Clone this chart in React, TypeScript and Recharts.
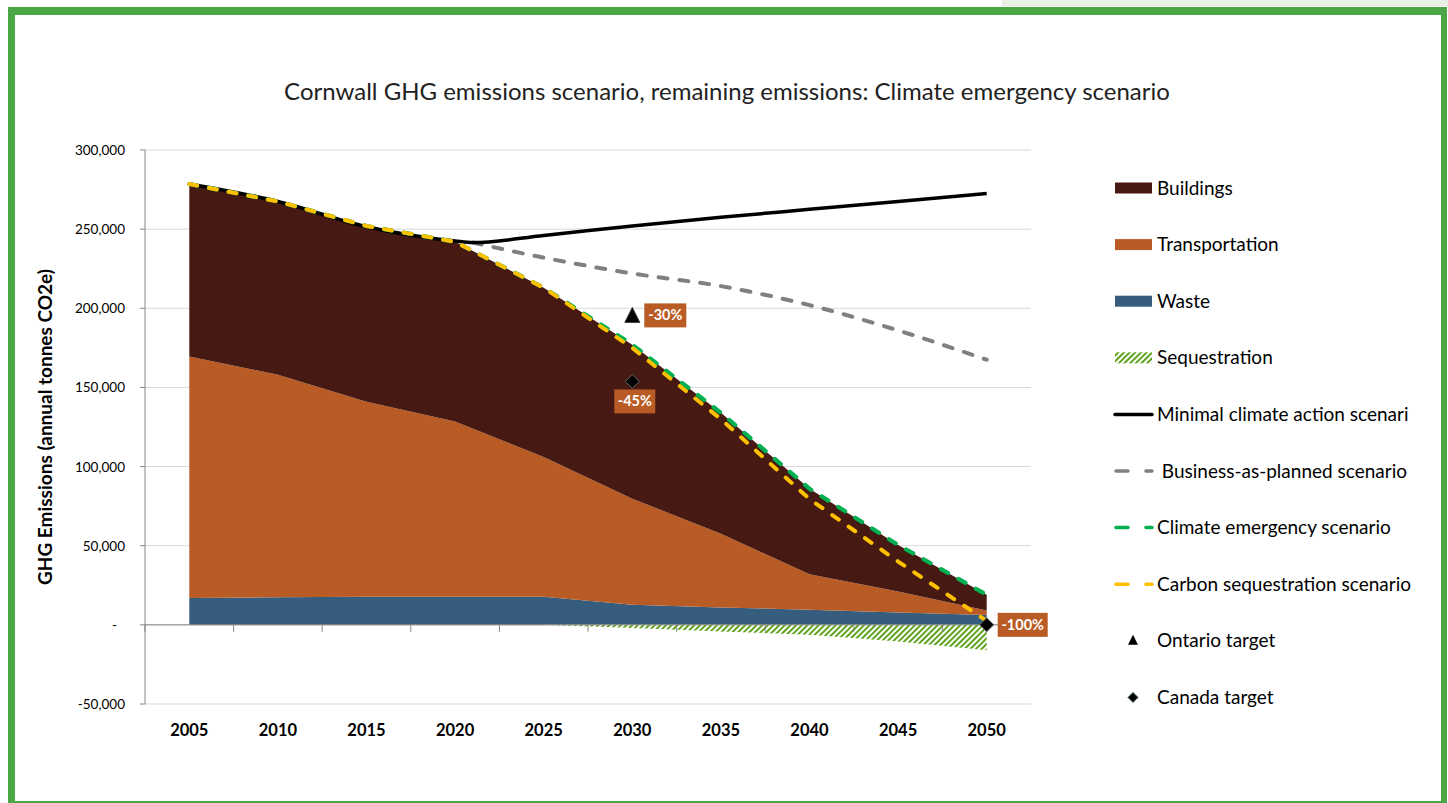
import React from "react";
import {
  ComposedChart,
  Area,
  Line,
  Scatter,
  XAxis,
  YAxis,
  CartesianGrid,
  ReferenceLine,
  ReferenceDot,
} from "recharts";

// 5-year categories, values in annual tonnes CO2e
const years = [2005, 2010, 2015, 2020, 2025, 2030, 2035, 2040, 2045, 2050];
const waste = [17000, 17400, 17700, 17700, 17700, 12700, 11000, 9500, 7800, 6300];
const transportation = [152600, 140600, 123300, 110800, 88300, 67000, 46600, 22500, 13200, 2700];
const buildings = [108900, 109500, 111000, 113500, 107000, 97300, 76400, 54000, 29500, 10000];
const sequestration = [null, null, null, null, 0, -2000, -4200, -6300, -10500, -16000];
const climateEmergency = [278500, 267500, 252000, 242000, 213000, 177000, 134000, 86000, 50500, 19000];
const carbonSequestration = [278500, 267500, 252000, 242000, 213000, 175000, 130000, 79500, 40000, 2500];

const minimalYears = [2005, 2010, 2015, 2020, 2021, 2025, 2030, 2035, 2040, 2045, 2050];
const minimalAction = [278500, 267500, 251500, 242500, 241500, 246000, 252000, 257500, 262500, 267500, 272500];

const plannedYears = [2021, 2025, 2030, 2035, 2040, 2045, 2050];
const businessAsPlanned = [241500, 232000, 222000, 214000, 202000, 186000, 167500];

const ontarioYears = [2030];
const ontarioTarget = [195500];
const ontarioLabels = ["-30%"];

const canadaYears = [2030, 2050];
const canadaTarget = [153800, 0];
const canadaLabels = ["-45%", "-100%"];

const yTicks = [-50000, 0, 50000, 100000, 150000, 200000, 250000, 300000];

const C = {
  buildings: "#461912",
  transport: "#b85b24",
  waste: "#365d7e",
  hatch: "#5fa31f",
  emergency: "#00b050",
  carbon: "#ffc000",
  planned: "#808080",
  axis: "#868686",
  grid: "#d9d9d9",
  frame: "#4ca846",
};

const stackData = years.map((year, i) => ({
  year,
  waste: waste[i],
  transportation: transportation[i],
  buildings: buildings[i],
  sequestration: sequestration[i],
  emergency: climateEmergency[i],
  carbon: carbonSequestration[i],
}));
const minimalData = minimalYears.map((year, i) => ({ year, value: minimalAction[i] }));
const plannedData = plannedYears.map((year, i) => ({ year, value: businessAsPlanned[i] }));
const ontarioData = ontarioYears.map((year, i) => ({ year, value: ontarioTarget[i], label: ontarioLabels[i] }));
const canadaData = canadaYears.map((year, i) => ({ year, value: canadaTarget[i], label: canadaLabels[i] }));

const fmtY = (v: number) => (v === 0 ? "-" : v.toLocaleString("en-US"));

const YTick = ({ x, y, payload }: any) => (
  <text x={payload.value === 0 ? x - 8 : x} y={y} dy={5} textAnchor="end" fontSize={13.5} fill="#000">
    {fmtY(payload.value)}
  </text>
);

const XTick = ({ x, y, payload }: any) => (
  <text x={x} y={y} dy={24} textAnchor="middle" fontSize={16.5} fontWeight="bold" fill="#000">
    {payload.value}
  </text>
);

const TagBox = ({ x, y, w, text }: { x: number; y: number; w: number; text: string }) => (
  <g>
    <rect x={x} y={y} width={w} height={24} fill={C.transport} />
    <text x={x + w / 2} y={y + 17} textAnchor="middle" fontSize={14.5} fontWeight="bold" fill="#fff">
      {text}
    </text>
  </g>
);

const Triangle = ({ cx, cy, payload }: any) => (
  <g>
    <path d={`M${cx},${cy - 8} L${cx + 7.5},${cy + 7} L${cx - 7.5},${cy + 7} Z`} fill="#000" stroke="#3b3b2e" />
    <TagBox x={cx + 12} y={cy - 12} w={42} text={payload.label} />
  </g>
);

const Diamond = ({ cx, cy, payload }: any) => {
  const last = payload.year === years[years.length - 1];
  return (
    <g>
      <path d={`M${cx},${cy - 7} L${cx + 7},${cy} L${cx},${cy + 7} L${cx - 7},${cy} Z`} fill="#000" stroke="#5f6b6b" />
      {last ? (
        <TagBox x={cx + 11} y={cy - 12} w={50} text={payload.label} />
      ) : (
        <TagBox x={cx - 18} y={cy + 8} w={41} text={payload.label} />
      )}
    </g>
  );
};

const TickMark = ({ cx, cy }: any) => <line x1={cx} x2={cx} y1={cy} y2={cy + 7} stroke={C.axis} strokeWidth={1} />;

const legendItems = [
  { name: "Buildings", kind: "box", color: C.buildings },
  { name: "Transportation", kind: "box", color: C.transport },
  { name: "Waste", kind: "box", color: C.waste },
  { name: "Sequestration", kind: "hatch", color: C.hatch },
  { name: "Minimal climate action scenari", kind: "line", color: "#000" },
  { name: " Business-as-planned scenario", kind: "dash", color: C.planned },
  { name: "Climate emergency scenario", kind: "dash", color: C.emergency },
  { name: "Carbon sequestration scenario", kind: "dash", color: C.carbon },
  { name: "Ontario target", kind: "triangle", color: "#000" },
  { name: "Canada target", kind: "diamond", color: "#000" },
];

function LegendBox() {
  const step = 56.6;
  return (
    <svg width={345} height={580} style={{ position: "absolute", left: 1100, top: 160 }}>
      <defs>
        <pattern id="legHatch" width="4" height="4" patternUnits="userSpaceOnUse" patternTransform="rotate(45)">
          <rect width="4" height="4" fill="#fff" />
          <rect width="2" height="4" fill={C.hatch} />
        </pattern>
      </defs>
      {legendItems.map((it, i) => {
        const cy = 28 + i * step;
        let sw: React.ReactNode = null;
        if (it.kind === "box") sw = <rect x={15} y={cy - 5.5} width={37} height={11} fill={it.color} />;
        if (it.kind === "hatch") sw = <rect x={15} y={cy - 5.5} width={37} height={11} fill="url(#legHatch)" />;
        if (it.kind === "line") sw = <line x1={15} x2={52} y1={cy} y2={cy} stroke="#000" strokeWidth={3.5} strokeLinecap="round" />;
        if (it.kind === "dash")
          sw = (
            <g stroke={it.color} strokeWidth={3.5} strokeLinecap="round">
              <line x1={16} x2={28} y1={cy} y2={cy} />
              <line x1={46} x2={52} y1={cy} y2={cy} />
            </g>
          );
        if (it.kind === "triangle") sw = <path d={`M33,${cy - 6} L38,${cy + 4} L28,${cy + 4} Z`} fill="#000" />;
        if (it.kind === "diamond") sw = <path d={`M33,${cy - 5} L38,${cy} L33,${cy + 5} L28,${cy} Z`} fill="#000" stroke="#3e5a5a" />;
        return (
          <g key={it.name}>
            {sw}
            <text x={57} y={cy + 6.5} fontSize={19} fill="#000" style={{ whiteSpace: "pre" }}>
              {it.name}
            </text>
          </g>
        );
      })}
    </svg>
  );
}

export default function App() {
  const boundaries = [years[0] - 2.5, ...years.map((y) => y + 2.5)];
  return (
    <div
      style={{
        position: "absolute",
        left: 0,
        top: 0,
        width: 1448,
        height: 803,
        background: "#fff",
        overflow: "hidden",
        fontFamily: "Lato, 'Open Sans', sans-serif",
      }}
    >
      <div style={{ position: "absolute", left: 1002, top: 0, width: 446, height: 6, background: "#e6f0e3" }} />
      <div
        style={{
          position: "absolute",
          left: 8,
          top: 7,
          width: 1426,
          height: 786,
          borderStyle: "solid",
          borderColor: C.frame,
          borderWidth: "8px 6px 2px 7px",
        }}
      />
      <div
        style={{
          position: "absolute",
          left: 727,
          top: 76,
          transform: "translateX(-50%)",
          whiteSpace: "nowrap",
          fontSize: 24,
          color: "#222",
        }}
      >
        Cornwall GHG emissions scenario, remaining emissions: Climate emergency scenario
      </div>
      <div style={{ position: "absolute", left: 0, top: 0 }}>
        <ComposedChart width={1448} height={803} data={stackData} margin={{ top: 150, right: 417, bottom: 49, left: 45 }}>
          <defs>
            <pattern id="seqHatch" width="4" height="4" patternUnits="userSpaceOnUse" patternTransform="rotate(45)">
              <rect width="4" height="4" fill="#fff" />
              <rect width="2" height="4" fill={C.hatch} />
            </pattern>
          </defs>
          <CartesianGrid stroke={C.grid} vertical={false} />
          <XAxis
            dataKey="year"
            type="number"
            domain={[years[0] - 2.5, years[years.length - 1] + 2.5]}
            ticks={years}
            axisLine={false}
            tickLine={false}
            height={50}
            tick={<XTick />}
          />
          <YAxis
            type="number"
            domain={[yTicks[0], yTicks[yTicks.length - 1]]}
            ticks={yTicks}
            width={100}
            stroke={C.axis}
            tickSize={5}
            tickMargin={15}
            tick={<YTick />}
            label={{
              value: "GHG Emissions (annual tonnes CO2e)",
              angle: -90,
              position: "insideLeft",
              offset: 0,
              style: { textAnchor: "middle", fontWeight: "bold", fontSize: 19, fill: "#000" },
            }}
          />
          <Area dataKey="waste" stackId="s" type="linear" fill={C.waste} fillOpacity={1} stroke="none" isAnimationActive={false} />
          <Area dataKey="transportation" stackId="s" type="linear" fill={C.transport} fillOpacity={1} stroke="none" isAnimationActive={false} />
          <Area dataKey="buildings" stackId="s" type="linear" fill={C.buildings} fillOpacity={1} stroke="none" isAnimationActive={false} />
          <Area dataKey="sequestration" type="linear" fill="url(#seqHatch)" fillOpacity={1} stroke="none" isAnimationActive={false} />
          <ReferenceLine y={0} stroke={C.axis} strokeWidth={1} />
          {boundaries.map((b) => (
            <ReferenceDot key={b} x={b} y={0} r={0} shape={<TickMark />} />
          ))}
          <Line data={plannedData} dataKey="value" type="monotone" stroke={C.planned} strokeWidth={4} strokeDasharray="9 12" strokeLinecap="round" dot={false} activeDot={false} isAnimationActive={false} />
          <Line data={minimalData} dataKey="value" type="monotone" stroke="#000" strokeWidth={3.5} dot={false} activeDot={false} isAnimationActive={false} />
          <Line dataKey="emergency" type="linear" stroke={C.emergency} strokeWidth={4.2} strokeDasharray="8 12" strokeLinecap="round" dot={false} activeDot={false} isAnimationActive={false} />
          <Line dataKey="carbon" type="linear" stroke={C.carbon} strokeWidth={4} strokeDasharray="8 12" strokeLinecap="round" dot={false} activeDot={false} isAnimationActive={false} />
          <Scatter data={ontarioData} dataKey="value" shape={<Triangle />} isAnimationActive={false} />
          <Scatter data={canadaData} dataKey="value" shape={<Diamond />} isAnimationActive={false} />
        </ComposedChart>
      </div>
      <LegendBox />
    </div>
  );
}
